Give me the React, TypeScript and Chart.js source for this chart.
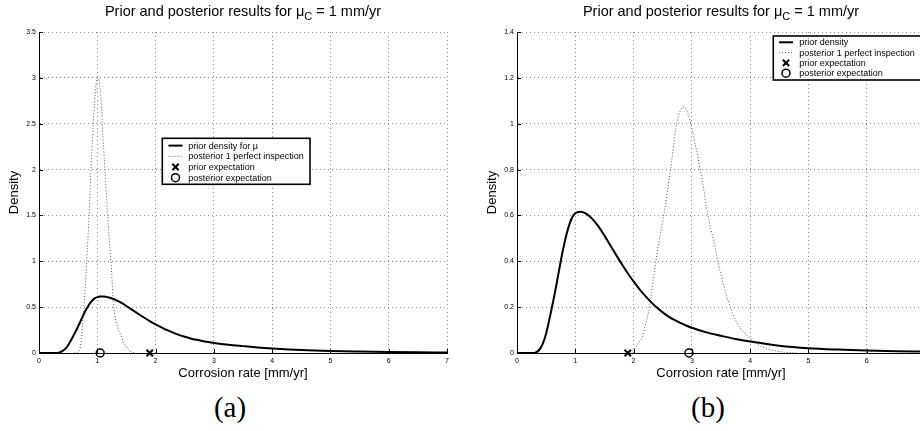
import React, { useEffect, useRef } from "react";
import { Chart, registerables } from "chart.js";

Chart.register(...registerables);

const SANS = '"Liberation Sans", Arial, Helvetica, sans-serif';

// Prior density of the corrosion rate (shared by both panels)
const priorRate = [0, 0.3, 0.35, 0.4, 0.45, 0.5, 0.55, 0.6, 0.65, 0.7, 0.75, 0.8, 0.85, 0.9, 0.95, 1.0, 1.05, 1.1, 1.15, 1.2, 1.3, 1.4, 1.5, 1.6, 1.7, 1.8, 1.9, 2.0, 2.1, 2.2, 2.3, 2.4, 2.5, 2.6, 2.7, 2.8, 2.9, 3.0, 3.25, 3.5, 3.75, 4.0, 4.5, 5.0, 5.5, 6.0, 6.5, 7.0];
const priorDensity = [0, 0, 0.006, 0.02, 0.045, 0.085, 0.14, 0.2, 0.262, 0.33, 0.4, 0.463, 0.518, 0.562, 0.593, 0.609, 0.615, 0.616, 0.612, 0.605, 0.583, 0.551, 0.512, 0.47, 0.428, 0.387, 0.348, 0.312, 0.279, 0.249, 0.222, 0.198, 0.177, 0.159, 0.144, 0.131, 0.12, 0.11, 0.09, 0.075, 0.061, 0.05, 0.032, 0.021, 0.015, 0.011, 0.008, 0.006];
const priorMean = 1.9;

// Panel (a): posterior after one perfect inspection
const postARate = [0.6, 0.66, 0.7, 0.72, 0.74, 0.77, 0.795, 0.818, 0.84, 0.858, 0.875, 0.892, 0.912, 0.932, 0.95, 0.97, 0.99, 1.01, 1.03, 1.05, 1.07, 1.086, 1.11, 1.132, 1.155, 1.178, 1.205, 1.235, 1.26, 1.28, 1.31, 1.35, 1.4, 1.45, 1.5, 1.55, 1.6, 1.66];
const postADensity = [0, 0.008, 0.04, 0.12, 0.25, 0.5, 0.75, 1.0, 1.25, 1.5, 1.75, 2.0, 2.25, 2.5, 2.7, 2.87, 2.97, 3.0, 2.97, 2.88, 2.72, 2.5, 2.22, 2.0, 1.75, 1.5, 1.25, 1.0, 0.72, 0.52, 0.38, 0.28, 0.2, 0.12, 0.065, 0.025, 0.008, 0];
const postAMean = 1.05;

// Panel (b): posterior after one perfect inspection
const postBRate = [1.93, 2.0, 2.05, 2.1, 2.15, 2.2, 2.25, 2.3, 2.35, 2.4, 2.45, 2.5, 2.55, 2.6, 2.65, 2.7, 2.75, 2.8, 2.85, 2.9, 2.95, 3.0, 3.05, 3.1, 3.15, 3.2, 3.25, 3.3, 3.35, 3.4, 3.45, 3.5, 3.55, 3.6, 3.66, 3.7, 3.8, 3.9, 4.0, 4.1, 4.2, 4.3, 4.4, 4.5, 4.6, 4.8];
const postBDensity = [0, 0.015, 0.03, 0.05, 0.07, 0.12, 0.17, 0.245, 0.34, 0.43, 0.505, 0.575, 0.65, 0.74, 0.83, 0.935, 1.01, 1.055, 1.074, 1.065, 1.03, 0.98, 0.92, 0.86, 0.79, 0.72, 0.635, 0.57, 0.515, 0.46, 0.395, 0.34, 0.29, 0.245, 0.2, 0.172, 0.12, 0.088, 0.065, 0.042, 0.027, 0.017, 0.011, 0.006, 0.003, 0];
const postBMean = 2.95;

// Axis ticks
const xTicks = [0, 1, 2, 3, 4, 5, 6, 7];
const yTicksA = [0, 0.5, 1, 1.5, 2, 2.5, 3, 3.5];
const yTicksB = [0, 0.2, 0.4, 0.6, 0.8, 1, 1.2, 1.4];

const titleMain = "Prior and posterior results for \u03bc";
const titleSub = "C";
const titleRest = " = 1 mm/yr";
const xLabel = "Corrosion rate [mm/yr]";
const yLabel = "Density";
const postLabel = "posterior 1 perfect inspection";
const priorMeanLabel = "prior expectation";
const postMeanLabel = "posterior expectation";

type LegendBox = {
  left: number;
  top: number;
  width: number;
  height: number;
  firstRow: number;
  rowH: number;
  sample: [number, number];
  textX: number;
};

type Panel = {
  priorLabel: string;
  postRate: number[];
  postDensity: number[];
  postMean: number;
  yTicks: number[];
  axisWidth: number;
  padRight: number;
  yTitlePad: number;
  legend: LegendBox;
};

const toPoints = (xs: number[], ys: number[]) => xs.map((x, i) => ({ x, y: ys[i] }));
const tickText = (v: number | string) => String(Number(Number(v).toFixed(2)));

// Title with a subscripted "C"
const titlePlugin = {
  id: "panelTitle",
  afterDraw(chart: any) {
    const { ctx, chartArea } = chart;
    const big = `14.5px ${SANS}`;
    const small = `11px ${SANS}`;
    ctx.save();
    ctx.font = big;
    const w1 = ctx.measureText(titleMain).width;
    const w3 = ctx.measureText(titleRest).width;
    ctx.font = small;
    const w2 = ctx.measureText(titleSub).width;
    let x = (chartArea.left + chartArea.right) / 2 - (w1 + w2 + w3) / 2;
    const y = 16;
    ctx.fillStyle = "#000";
    ctx.textAlign = "left";
    ctx.textBaseline = "alphabetic";
    ctx.font = big;
    ctx.fillText(titleMain, x, y);
    x += w1;
    ctx.font = small;
    ctx.fillText(titleSub, x, y + 4);
    x += w2;
    ctx.font = big;
    ctx.fillText(titleRest, x, y);
    ctx.restore();
  },
};

// Inward tick marks on the left and bottom axes
const tickPlugin = {
  id: "inwardTicks",
  afterDatasetsDraw(chart: any) {
    const { ctx, chartArea, scales } = chart;
    ctx.save();
    ctx.strokeStyle = "#000";
    ctx.lineWidth = 1;
    ctx.beginPath();
    scales.x.ticks.forEach((t: any) => {
      const px = Math.round(scales.x.getPixelForValue(t.value)) + 0.5;
      ctx.moveTo(px, chartArea.bottom);
      ctx.lineTo(px, chartArea.bottom - 4);
    });
    scales.y.ticks.forEach((t: any) => {
      const py = Math.round(scales.y.getPixelForValue(t.value)) + 0.5;
      ctx.moveTo(chartArea.left, py);
      ctx.lineTo(chartArea.left + 4, py);
    });
    ctx.stroke();
    ctx.restore();
  },
};

function drawCross(ctx: CanvasRenderingContext2D, x: number, y: number, r: number, w: number) {
  const d = r * Math.SQRT1_2;
  ctx.save();
  ctx.strokeStyle = "#000";
  ctx.lineWidth = w;
  ctx.beginPath();
  ctx.moveTo(x - d, y - d);
  ctx.lineTo(x + d, y + d);
  ctx.moveTo(x - d, y + d);
  ctx.lineTo(x + d, y - d);
  ctx.stroke();
  ctx.restore();
}

function drawCircle(ctx: CanvasRenderingContext2D, x: number, y: number, r: number, w: number) {
  ctx.save();
  ctx.strokeStyle = "#000";
  ctx.lineWidth = w;
  ctx.beginPath();
  ctx.arc(x, y, r, 0, Math.PI * 2);
  ctx.stroke();
  ctx.restore();
}

// Boxed legend placed inside the plot
const legendPlugin = {
  id: "boxLegend",
  afterDraw(chart: any, _args: any, opts: any) {
    const { ctx } = chart;
    const L: LegendBox = opts;
    ctx.save();
    ctx.fillStyle = "#fff";
    ctx.fillRect(L.left, L.top, L.width, L.height);
    ctx.strokeStyle = "#000";
    ctx.lineWidth = 1.6;
    ctx.strokeRect(L.left, L.top, L.width, L.height);
    ctx.font = `9px ${SANS}`;
    ctx.textBaseline = "middle";
    ctx.textAlign = "left";
    chart.data.datasets.forEach((ds: any, i: number) => {
      const cy = L.top + L.firstRow + i * L.rowH;
      const mx = (L.sample[0] + L.sample[1]) / 2;
      if (ds.showLine) {
        ctx.save();
        ctx.strokeStyle = ds.borderColor;
        ctx.lineWidth = ds.borderWidth;
        ctx.setLineDash(ds.borderDash || []);
        ctx.beginPath();
        ctx.moveTo(L.sample[0], cy);
        ctx.lineTo(L.sample[1], cy);
        ctx.stroke();
        ctx.restore();
      } else if (ds.pointStyle === "crossRot") {
        drawCross(ctx, mx, cy, ds.pointRadius, ds.borderWidth);
      } else {
        drawCircle(ctx, mx, cy, ds.pointRadius, ds.borderWidth);
      }
      ctx.fillStyle = "#000";
      ctx.fillText(ds.label, L.textX, cy + 0.5);
    });
    ctx.restore();
  },
};

function makeConfig(p: Panel): any {
  return {
    type: "scatter",
    data: {
      datasets: [
        {
          label: p.priorLabel,
          data: toPoints(priorRate, priorDensity),
          showLine: true,
          borderColor: "#000",
          borderWidth: 2,
          pointRadius: 0,
          cubicInterpolationMode: "monotone",
          order: 2,
        },
        {
          label: postLabel,
          data: toPoints(p.postRate, p.postDensity),
          showLine: true,
          borderColor: "#555",
          borderWidth: 1,
          borderDash: [1, 2],
          pointRadius: 0,
          cubicInterpolationMode: "monotone",
          order: 3,
        },
        {
          label: priorMeanLabel,
          data: [{ x: priorMean, y: 0 }],
          showLine: false,
          pointStyle: "crossRot",
          pointRadius: 4.5,
          borderWidth: 2,
          borderColor: "#000",
          backgroundColor: "rgba(0,0,0,0)",
          clip: false,
          order: 0,
        },
        {
          label: postMeanLabel,
          data: [{ x: p.postMean, y: 0 }],
          showLine: false,
          pointStyle: "circle",
          pointRadius: 4,
          borderWidth: 1.5,
          borderColor: "#000",
          backgroundColor: "rgba(0,0,0,0)",
          clip: false,
          order: 0,
        },
      ],
    },
    options: {
      animation: false,
      responsive: false,
      events: [],
      layout: { padding: { left: 0, top: 32, right: p.padRight, bottom: 9 } },
      plugins: {
        legend: { display: false },
        tooltip: { enabled: false },
        title: { display: false },
        boxLegend: p.legend,
      },
      scales: {
        x: {
          type: "linear",
          min: xTicks[0],
          max: xTicks[xTicks.length - 1],
          afterBuildTicks: (s: any) => {
            s.ticks = xTicks.map((v) => ({ value: v }));
          },
          afterFit: (s: any) => {
            s.height = 28;
          },
          ticks: {
            font: { family: SANS, size: 7 },
            color: "#000",
            padding: 4,
            maxRotation: 0,
            autoSkip: false,
            callback: tickText,
          },
          grid: { color: "#8c8c8c", lineWidth: 1, drawTicks: false },
          border: { display: true, color: "#000", width: 1, dash: [1, 3] },
          title: {
            display: true,
            text: xLabel,
            font: { family: SANS, size: 13 },
            color: "#000",
            padding: { top: 0, bottom: 0 },
          },
        },
        y: {
          type: "linear",
          min: p.yTicks[0],
          max: p.yTicks[p.yTicks.length - 1],
          afterBuildTicks: (s: any) => {
            s.ticks = p.yTicks.map((v) => ({ value: v }));
          },
          afterFit: (s: any) => {
            s.width = p.axisWidth;
          },
          ticks: {
            font: { family: SANS, size: 7 },
            color: "#000",
            padding: 3,
            autoSkip: false,
            callback: tickText,
          },
          grid: { color: "#8c8c8c", lineWidth: 1, drawTicks: false },
          border: { display: true, color: "#000", width: 1, dash: [1, 3] },
          title: {
            display: true,
            text: yLabel,
            font: { family: SANS, size: 13 },
            color: "#000",
            padding: { top: p.yTitlePad, bottom: 0 },
          },
        },
      },
    },
    plugins: [titlePlugin, tickPlugin, legendPlugin],
  };
}

const panelA: Panel = {
  priorLabel: "prior density for \u03bc",
  postRate: postARate,
  postDensity: postADensity,
  postMean: postAMean,
  yTicks: yTicksA,
  axisWidth: 39,
  padRight: 13,
  yTitlePad: 6.2,
  legend: { left: 162.3, top: 138.3, width: 147.7, height: 46, firstRow: 7.3, rowH: 10.7, sample: [168.5, 182.5], textX: 188.3 },
};

const panelB: Panel = {
  priorLabel: "prior density",
  postRate: postBRate,
  postDensity: postBDensity,
  postMean: postBMean,
  yTicks: yTicksB,
  axisWidth: 57,
  padRight: 15,
  yTitlePad: 24.2,
  legend: { left: 313.3, top: 36, width: 151, height: 44, firstRow: 6.3, rowH: 10.3, sample: [319, 333], textX: 339.3 },
};

function PanelChart({ panel, left, width }: { panel: Panel; left: number; width: number }) {
  const ref = useRef<HTMLCanvasElement | null>(null);
  useEffect(() => {
    if (!ref.current) return;
    const chart = new Chart(ref.current, makeConfig(panel));
    return () => chart.destroy();
  }, [panel]);
  return (
    <canvas
      ref={ref}
      width={width}
      height={390}
      style={{ position: "absolute", left, top: 0, width, height: 390 }}
    />
  );
}

const captionStyle = (cx: number): React.CSSProperties => ({
  position: "absolute",
  left: cx,
  top: 407,
  transform: "translate(-50%, -50%)",
  fontFamily: '"Liberation Serif", "Times New Roman", serif',
  fontSize: 29,
  lineHeight: 1,
  color: "#000",
  whiteSpace: "nowrap",
});

export default function App() {
  return (
    <div
      style={{
        position: "absolute",
        left: 0,
        top: 0,
        width: 920,
        height: 431,
        overflow: "hidden",
        background: "#fff",
      }}
    >
      <PanelChart panel={panelA} left={0} width={460} />
      <PanelChart panel={panelB} left={460} width={480} />
      <div style={captionStyle(230)}>(a)</div>
      <div style={captionStyle(708)}>(b)</div>
    </div>
  );
}
